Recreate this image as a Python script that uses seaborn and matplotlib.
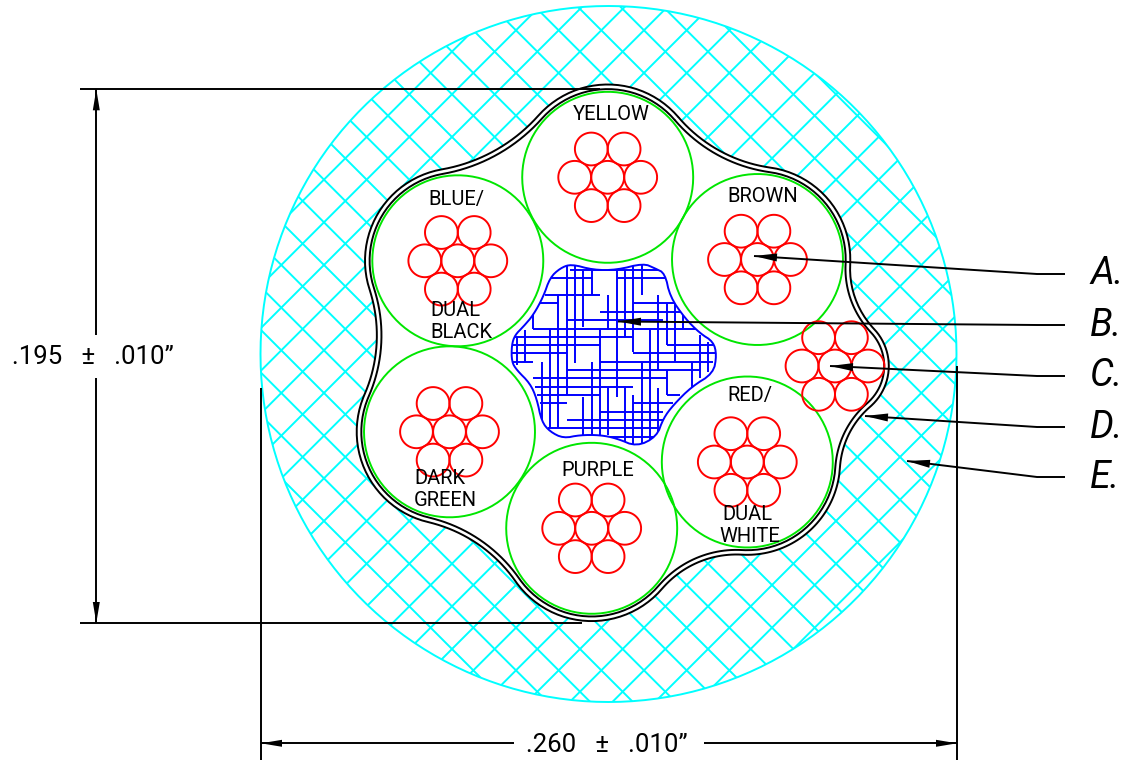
import numpy as np
import pandas as pd
import matplotlib.pyplot as plt
import seaborn as sns
from matplotlib.patches import Circle, Polygon

# everything is in reference pixels, y pointing down
WIDTH, HEIGHT = 1123, 760
JACKET_CENTER = (608.5, 354.0)
JACKET_RADIUS = 348.0
HATCH_SPACING = 42.67
HATCH_SUM_ANCHOR = 503.6
HATCH_DIFF_ANCHOR = 315.0

conductor_names = ["yellow", "brown", "red", "purple", "dark green", "blue"]
conductor_x = [607.7, 757.5, 747.3, 591.7, 449.5, 457.8]
conductor_y = [177.3, 259.5, 462.0, 528.3, 431.8, 260.8]
conductor_radius = 85.5

drain_x, drain_y = 835.0, 366.0
strand_radius = 16.4
strand_offset_x = [0, 33, 16.4, -16.4, -33, -16.4, 16.4]
strand_offset_y = [0, 0, 28.3, 28.3, 0, -28.3, -28.3]

# shield outline, clockwise: lobe centres, lobe radii, fillet radius to the next lobe
lobe_x = [607.7, 757.5, 835.0, 747.3, 591.7, 449.5, 457.8]
lobe_y = [177.3, 259.5, 366.0, 462.0, 528.3, 431.8, 260.8]
lobe_r = [90.5, 90.5, 51.5, 90.5, 90.5, 90.5, 90.5]
fillet_r = [150, 90, 90, 100, 150, 150, 170]
SHIELD_GAP = 2.3
LINE_W = 1.4

filler_x = [213, 180, 150, 130, 100, 70, 45, 35, 35, 50, 90, 110, 125, 150, 190, 240, 300, 350, 410,
            470, 490, 520, 575, 640, 650, 640, 600, 555, 510, 495, 465, 430, 350, 280]
filler_y = [27, 40, 68, 125, 180, 215, 240, 270, 320, 345, 385, 430, 500, 530, 550, 540, 540, 550, 575,
            545, 490, 450, 395, 355, 300, 260, 235, 190, 125, 55, 40, 25, 45, 45]
filler_v_x = [200, 225, 250, 250, 275, 275, 175, 150, 125, 100, 75, 50, 300, 325, 325, 350, 375, 375,
              400, 400, 425, 425, 450, 475, 475, 500, 500, 525, 550, 575, 600, 625]
filler_v_y0 = [30, 30, 45, 425, 45, 320, 120, 222, 320, 180, 225, 245, 222, 120, 400, 45, 45, 400,
               30, 420, 25, 325, 222, 120, 400, 145, 345, 145, 180, 320, 240, 260]
filler_v_y1 = [420, 325, 215, 540, 120, 540, 520, 520, 495, 222, 320, 330, 540, 225, 540, 425, 250, 560,
               290, 570, 120, 575, 560, 345, 545, 270, 420, 320, 222, 395, 370, 350]
filler_h_y = [45, 70, 70, 120, 145, 145, 170, 195, 222, 245, 270, 270, 295, 295, 320, 320, 345, 370,
              395, 420, 420, 445, 445, 470, 495, 520, 545]
filler_h_x0 = [210, 150, 350, 135, 120, 400, 300, 200, 100, 45, 40, 500, 35, 400, 40, 300, 200, 100,
               105, 110, 500, 120, 400, 300, 200, 145, 225]
filler_h_x1 = [480, 275, 495, 300, 175, 525, 545, 490, 600, 400, 300, 640, 200, 650, 100, 640, 600, 500,
               400, 300, 540, 200, 520, 490, 490, 470, 470]

leader_names = ["A.", "B.", "C.", "D.", "E."]
leader_tip_x = [754, 618, 830, 865, 907]
leader_tip_y = [256, 321.5, 366, 416, 461]
leader_elbow_y = [274, 325, 376, 427, 477]
LEADER_ELBOW_X, LEADER_END_X, LEADER_LABEL_X = 1037, 1065, 1090

wire_labels = ["YELLOW", "BROWN", "BLUE/", "DUAL", "BLACK", "DARK", "GREEN", "PURPLE", "RED/", "DUAL", "WHITE"]
wire_label_x = [611, 763, 456, 455.5, 461.5, 440, 445.5, 597.5, 750, 747, 750]
wire_label_y = [115, 196, 199, 311, 332, 479, 500, 470, 396, 514, 536]

height_label = ".195   ±   .010”"
width_label = ".260   ±   .010”"
dim_left, dim_right, dim_top, dim_bottom = 261, 957, 89.3, 623
dim_h_y, dim_v_x = 743.3, 96.3


def draw_paths(ax, paths, color, lw, zorder=2, clip=None):
    # one seaborn line per path, no aggregation and no sorting
    frames = [pd.DataFrame({"x": x, "y": y, "path": i}) for i, (x, y) in enumerate(paths)]
    before = len(ax.lines)
    sns.lineplot(data=pd.concat(frames), x="x", y="y", units="path", estimator=None, sort=False,
                 color=color, linewidth=lw, legend=False, ax=ax, zorder=zorder)
    for line in ax.lines[before:]:
        line.set_solid_capstyle("butt")
        if clip is not None:
            line.set_clip_path(clip)


def circle_path(cx, cy, r):
    t = np.linspace(0, 2 * np.pi, 181)
    return cx + r * np.cos(t), cy + r * np.sin(t)


def arc(cx, cy, r, a0, a1):
    n = max(int(abs(a1 - a0) * 30), 4)
    t = np.linspace(a0, a1, n)
    return cx + r * np.cos(t), cy + r * np.sin(t)


def fillet_center(c1, r1, c2, r2, rf):
    c1, c2 = np.array(c1), np.array(c2)
    d = np.linalg.norm(c2 - c1)
    R1, R2 = r1 + rf, r2 + rf
    a = (R1**2 - R2**2 + d**2) / (2 * d)
    h = np.sqrt(R1**2 - a**2)
    u = (c2 - c1) / d
    mid = c1 + a * u
    perp = np.array([-u[1], u[0]])
    options = [mid + h * perp, mid - h * perp]
    dist = [np.linalg.norm(p - np.array(JACKET_CENTER)) for p in options]
    return options[int(np.argmax(dist))]


def shield_path(offset):
    n = len(lobe_x)
    xs, ys = [], []
    centers = []
    for i in range(n):
        j = (i + 1) % n
        centers.append(fillet_center((lobe_x[i], lobe_y[i]), lobe_r[i], (lobe_x[j], lobe_y[j]), lobe_r[j], fillet_r[i]))
    for i in range(n):
        j = (i + 1) % n
        prev = centers[i - 1]
        cur = centers[i]
        # lobe, clockwise on screen
        a0 = np.arctan2(prev[1] - lobe_y[i], prev[0] - lobe_x[i])
        a1 = np.arctan2(cur[1] - lobe_y[i], cur[0] - lobe_x[i])
        if a1 < a0:
            a1 += 2 * np.pi
        x, y = arc(lobe_x[i], lobe_y[i], lobe_r[i] + offset, a0, a1)
        xs.append(x)
        ys.append(y)
        # fillet, the other way round
        b0 = np.arctan2(lobe_y[i] - cur[1], lobe_x[i] - cur[0])
        b1 = np.arctan2(lobe_y[j] - cur[1], lobe_x[j] - cur[0])
        if b1 > b0:
            b1 -= 2 * np.pi
        x, y = arc(cur[0], cur[1], fillet_r[i] - offset, b0, b1)
        xs.append(x)
        ys.append(y)
    return np.concatenate(xs), np.concatenate(ys)


def corner_cut(x, y, rounds=2):
    # rounds off the hand-read filler outline
    pts = np.column_stack([x, y])
    for _ in range(rounds):
        nxt = np.roll(pts, -1, axis=0)
        pts = np.column_stack([0.75 * pts + 0.25 * nxt, 0.25 * pts + 0.75 * nxt]).reshape(-1, 2)
    return pts[:, 0], pts[:, 1]


def arrow_head(ax, tip, tail, length=23, half_width=4):
    tip, tail = np.array(tip, float), np.array(tail, float)
    u = (tail - tip) / np.linalg.norm(tail - tip)
    n = np.array([-u[1], u[0]])
    base = tip + u * length
    pts = np.array([tip, base + n * half_width, base - n * half_width])
    ax.fill(pts[:, 0], pts[:, 1], color="black", lw=0, zorder=7)


sns.set_theme(style="white")
plt.rcParams["font.family"] = ["Roboto", "DejaVu Sans"]

fig = plt.figure(figsize=(WIDTH / 100, HEIGHT / 100), dpi=100)
ax = fig.add_axes([0, 0, 1, 1])

# cable jacket with its cross hatch
jacket_clip = Circle(JACKET_CENTER, JACKET_RADIUS, transform=ax.transData)
hatch = []
for k in range(-2, 40):
    s = HATCH_SUM_ANCHOR + (k - 8) * HATCH_SPACING
    hatch.append((np.array([0.0, WIDTH]), s - np.array([0.0, WIDTH])))
for k in range(-25, 25):
    d = HATCH_DIFF_ANCHOR + k * HATCH_SPACING
    hatch.append((np.array([0.0, WIDTH]), np.array([0.0, WIDTH]) - d))
draw_paths(ax, hatch, "#00ffff", LINE_W, zorder=1, clip=jacket_clip)
draw_paths(ax, [circle_path(*JACKET_CENTER, JACKET_RADIUS)], "#00ffff", LINE_W, zorder=1)

# shield
outer = shield_path(SHIELD_GAP)
inner = shield_path(-SHIELD_GAP)
ax.fill(outer[0], outer[1], color="white", lw=0, zorder=2)
draw_paths(ax, [outer, inner], "black", LINE_W, zorder=3)

# filler
fx, fy = corner_cut(500 + np.array(filler_x) / 3, 255 + np.array(filler_y) / 3)
filler_clip = Polygon(np.column_stack([fx, fy]), transform=ax.transData)
filler_lines = []
for x, y0, y1 in zip(filler_v_x, filler_v_y0, filler_v_y1):
    filler_lines.append(([500 + x / 3, 500 + x / 3], [255 + y0 / 3, 255 + y1 / 3]))
for y, x0, x1 in zip(filler_h_y, filler_h_x0, filler_h_x1):
    filler_lines.append(([500 + x0 / 3, 500 + x1 / 3], [255 + y / 3, 255 + y / 3]))
draw_paths(ax, filler_lines, "#0000ff", LINE_W, zorder=4, clip=filler_clip)
draw_paths(ax, [(np.append(fx, fx[0]), np.append(fy, fy[0]))], "#0000ff", LINE_W, zorder=4)

# conductors and strands
draw_paths(ax, [circle_path(x, y, conductor_radius) for x, y in zip(conductor_x, conductor_y)], "#00e600", LINE_W, zorder=5)
strands = []
for cx, cy in zip(conductor_x + [drain_x], conductor_y + [drain_y]):
    for ox, oy in zip(strand_offset_x, strand_offset_y):
        strands.append(circle_path(cx + ox, cy + oy, strand_radius))
draw_paths(ax, strands, "#ff0000", LINE_W, zorder=5)

# dimensions
dims = [
    ([80, 600], [dim_top, dim_top]),
    ([80, 582], [dim_bottom, dim_bottom]),
    ([dim_v_x, dim_v_x], [dim_top, 335]),
    ([dim_v_x, dim_v_x], [378, dim_bottom]),
    ([dim_left, dim_left], [388, HEIGHT]),
    ([dim_right, dim_right], [366, HEIGHT]),
    ([dim_left, 514], [dim_h_y, dim_h_y]),
    ([704, dim_right], [dim_h_y, dim_h_y]),
]
draw_paths(ax, dims, "black", LINE_W, zorder=6)
arrow_head(ax, (dim_v_x, dim_top), (dim_v_x, 335), 21, 3.5)
arrow_head(ax, (dim_v_x, dim_bottom), (dim_v_x, 378), 21, 3.5)
arrow_head(ax, (dim_left, dim_h_y), (514, dim_h_y), 21, 3.5)
arrow_head(ax, (dim_right, dim_h_y), (704, dim_h_y), 21, 3.5)
ax.text(93, 357, height_label, ha="center", va="center", fontsize=18.5, color="black", zorder=8)
ax.text(606.5, 745, width_label, ha="center", va="center", fontsize=18.5, color="black", zorder=8)

# leaders
for name, tx, ty, ey in zip(leader_names, leader_tip_x, leader_tip_y, leader_elbow_y):
    draw_paths(ax, [([tx, LEADER_ELBOW_X, LEADER_END_X], [ty, ey, ey])], "black", LINE_W, zorder=6)
    arrow_head(ax, (tx, ty), (LEADER_ELBOW_X, ey))
    ax.text(LEADER_LABEL_X, ey, name, ha="left", va="center", fontsize=27, style="italic",
            family=["Roboto", "DejaVu Sans"], color="black", zorder=8)

for label, x, y in zip(wire_labels, wire_label_x, wire_label_y):
    ax.text(x, y, label, ha="center", va="center", fontsize=14.5, color="black", zorder=8)

ax.set_xlim(0, WIDTH)
ax.set_ylim(HEIGHT, 0)
ax.set_xlabel("")
ax.set_ylabel("")
ax.axis("off")
fig.savefig("out.png", dpi=100, facecolor="white")
